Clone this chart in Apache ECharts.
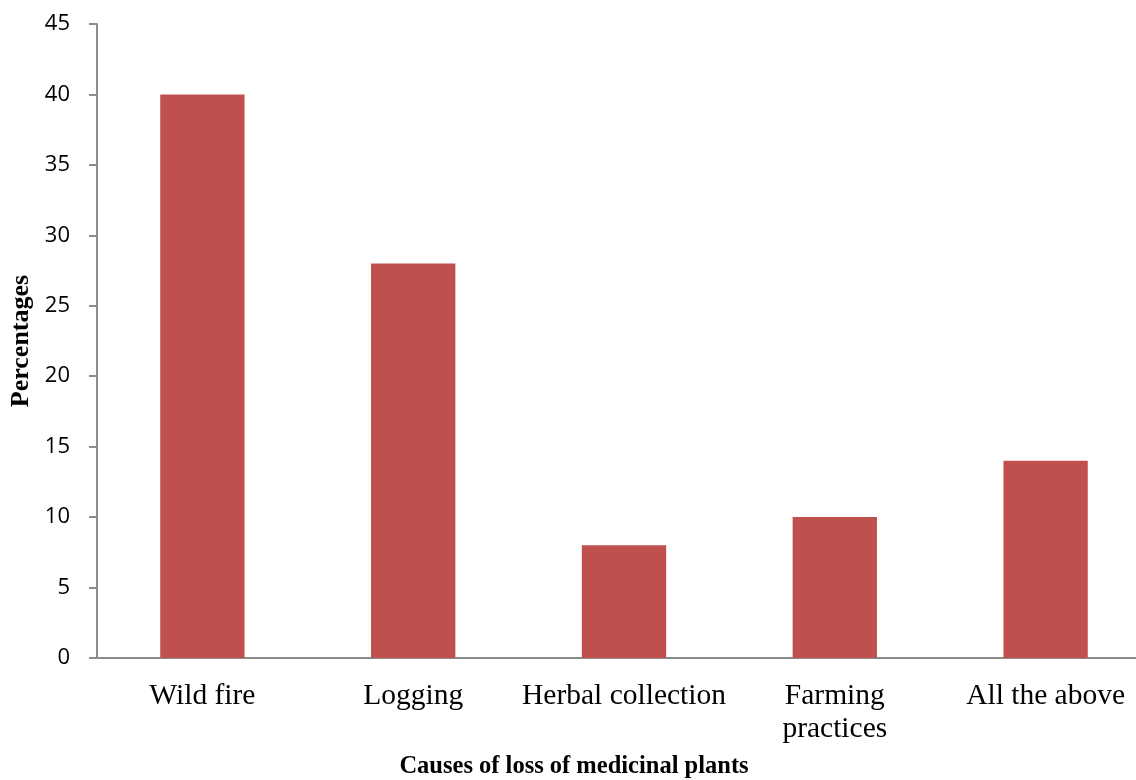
<!DOCTYPE html>
<html>
<head>
<meta charset="utf-8">
<script src="https://cdn.jsdelivr.net/npm/echarts@6/dist/echarts.min.js"></script>
<style>
  html, body { margin: 0; padding: 0; background: #fff; }
  #chart { width: 1136px; height: 780px; }
</style>
</head>
<body>
<div id="chart"></div>
<script>
// Causes of loss of medicinal plants (percent of responses)
const categories = ['Wild fire', 'Logging', 'Herbal collection', 'Farming\npractices', 'All the above'];
const percentages = [40, 28, 8, 10, 14];
const yTicks = { min: 0, max: 45, interval: 5 };
const xTitle = 'Causes of loss of medicinal plants';
const yTitle = 'Percentages';

const chart = echarts.init(document.getElementById('chart'));
chart.setOption({
  animation: false,
  backgroundColor: '#ffffff',
  // plot area runs slightly past the right edge of the canvas
  grid: { left: 97, top: 24, width: 1054, height: 634, containLabel: false, outerBoundsMode: 'none' },
  xAxis: {
    type: 'category',
    data: categories,
    axisLine: { lineStyle: { color: '#8c8c8c', width: 2 } },
    axisTick: { show: false },
    axisLabel: { interval: 0, hideOverlap: false, fontFamily: 'Liberation Serif', fontSize: 29.5, color: '#000', margin: 22, lineHeight: 33 }
  },
  yAxis: {
    type: 'value',
    min: yTicks.min, max: yTicks.max, interval: yTicks.interval,
    name: yTitle,
    nameLocation: 'middle',
    nameGap: 61,
    nameTextStyle: { fontFamily: 'Liberation Serif', fontWeight: 'bold', fontSize: 26, color: '#000' },
    axisLine: { show: true, lineStyle: { color: '#8c8c8c', width: 2 } },
    axisTick: { show: true, inside: false, length: 8, lineStyle: { color: '#8c8c8c', width: 2 } },
    splitLine: { show: false },
    axisLabel: { fontFamily: 'Open Sans', fontSize: 22, color: '#000', margin: 27 }
  },
  graphic: [{
    type: 'text',
    x: 574, y: 767,
    style: {
      text: xTitle,
      font: 'bold 24.5px "Liberation Serif"',
      fill: '#000',
      align: 'center', verticalAlign: 'middle',
      textAlign: 'center', textVerticalAlign: 'middle'
    }
  }],
  series: [{
    type: 'bar',
    data: percentages,
    barWidth: '40%',
    itemStyle: { color: '#c0504d' }
  }]
});
</script>
</body>
</html>
